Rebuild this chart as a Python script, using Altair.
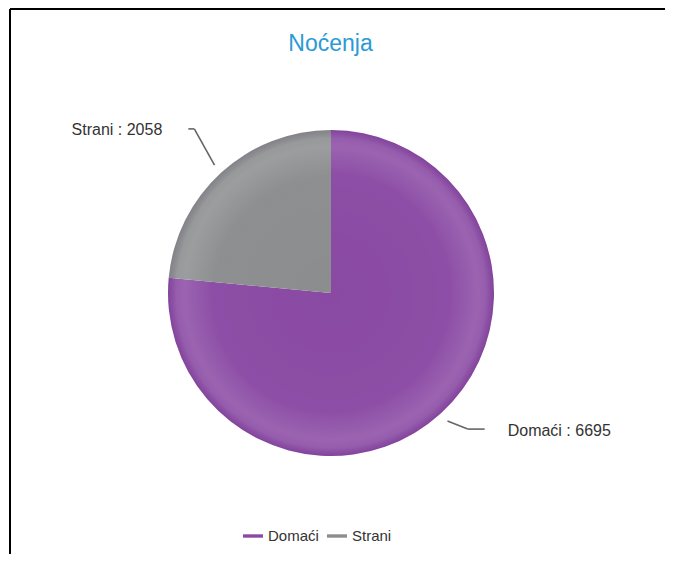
import altair as alt
import pandas as pd

categories = ["Domaći", "Strani"]
values = [6695, 2058]
order = [0, 1]
colors = ["#8a4aa4", "#8b8d8f"]
title_text = "Noćenja"

df = pd.DataFrame({"cat": categories, "value": values, "order": order})

W, H = 655, 545
CX, CY = 321, 284  # pie centre inside the view (pixels)
R = 163

xs = alt.Scale(domain=[-CX, W - CX], range=[0, W])
ys = alt.Scale(domain=[-CY, H - CY], range=[0, H])

base = alt.Chart(df).transform_joinaggregate(
    total="sum(value)"
).transform_window(
    cum="sum(value)", sort=[alt.SortField("order")], frame=[None, 0]
).transform_calculate(
    a0="2*PI*(datum.cum - datum.value)/datum.total",
    a1="2*PI*datum.cum/datum.total",
).transform_calculate(
    mid="(datum.a0 + datum.a1)/2"
).transform_calculate(
    side="sin(datum.mid) < 0 ? -1 : 1",
    p1x="173*sin(datum.mid)",
    p1y="-173*cos(datum.mid)",
    p2x="203*sin(datum.mid)",
    p2y="-203*cos(datum.mid) - 14",
).transform_calculate(
    p3x="datum.p2x + (datum.side < 0 ? -6 : 17)",
    tx="datum.p2x + (datum.side < 0 ? -32 : 40)",
    ty="datum.p2y + 1.5",
    label="datum.cat + ' : ' + datum.value",
)

pie = alt.Chart(df).mark_arc(outerRadius=R).encode(
    theta=alt.Theta("value:Q", stack=True),
    order=alt.Order("order:Q"),
    color=alt.Color(
        "cat:N",
        scale=alt.Scale(domain=categories, range=colors),
        legend=alt.Legend(
            title=None,
            orient="none",
            direction="horizontal",
            legendX=233,
            legendY=517,
            symbolType="M-1,-0.17L1,-0.17L1,0.17L-1,0.17Z",
            symbolSize=400,
            symbolStrokeWidth=0,
            labelFont="Liberation Sans",
            labelFontSize=15,
            labelColor="#333333",
            labelOffset=5,
            columnPadding=8,
        ),
    ),
    x=alt.value(CX),
    y=alt.value(CY),
)

shade = alt.Chart(df).transform_aggregate(total="sum(value)").mark_arc(
    outerRadius=R,
    theta=0,
    theta2=6.2832,
    fill=alt.RadialGradient(
        gradient="radial",
        x1=0.5, y1=0.5, r1=0, x2=0.5, y2=0.5, r2=0.5,
        stops=[
            alt.GradientStop(offset=0, color="rgba(255,255,255,0)"),
            alt.GradientStop(offset=0.72, color="rgba(255,255,255,0.02)"),
            alt.GradientStop(offset=0.9, color="rgba(255,255,255,0.14)"),
            alt.GradientStop(offset=0.95, color="rgba(255,255,255,0.1)"),
            alt.GradientStop(offset=1, color="rgba(40,0,60,0.08)"),
        ],
    ),
).encode(x=alt.value(CX), y=alt.value(CY))

line1 = base.mark_rule(color="#666666", strokeWidth=1.6).encode(
    x=alt.X("p1x:Q", scale=xs, axis=None),
    y=alt.Y("p1y:Q", scale=ys, axis=None),
    x2="p2x:Q",
    y2="p2y:Q",
)
line2 = base.mark_rule(color="#666666", strokeWidth=1.6).encode(
    x=alt.X("p2x:Q", scale=xs, axis=None),
    y=alt.Y("p2y:Q", scale=ys, axis=None),
    x2="p3x:Q",
    y2="p2y:Q",
)

txt_left = base.transform_filter("datum.side < 0").mark_text(
    align="right", baseline="middle", font="Liberation Sans", fontSize=16, color="#333333"
).encode(
    x=alt.X("tx:Q", scale=xs, axis=None),
    y=alt.Y("ty:Q", scale=ys, axis=None),
    text="label:N",
)
txt_right = base.transform_filter("datum.side > 0").mark_text(
    align="left", baseline="middle", font="Liberation Sans", fontSize=16, color="#333333"
).encode(
    x=alt.X("tx:Q", scale=xs, axis=None),
    y=alt.Y("ty:Q", scale=ys, axis=None),
    text="label:N",
)

frame_left = alt.Chart(df).mark_rule(color="#000000", strokeWidth=2).encode(
    x=alt.value(0), y=alt.value(0), y2=alt.value(H)
)
frame_top = alt.Chart(df).mark_rule(color="#000000", strokeWidth=2).encode(
    x=alt.value(0), x2=alt.value(W), y=alt.value(0)
)

chart = alt.layer(
    pie, shade, line1, line2, txt_left, txt_right, frame_left, frame_top
).properties(
    width=W,
    height=H,
    title=alt.TitleParams(
        title_text, font="Liberation Sans", fontSize=23, fontWeight="normal",
        color="#2a9ad5", anchor="middle", dy=52, dx=-7,
    ),
    padding={"left": 2, "top": 1, "right": 0, "bottom": 0},
    autosize=alt.AutoSizeParams(type="none"),
).configure_view(stroke=None)

chart.save("out.html", embed_options={"renderer": "svg", "actions": False})
